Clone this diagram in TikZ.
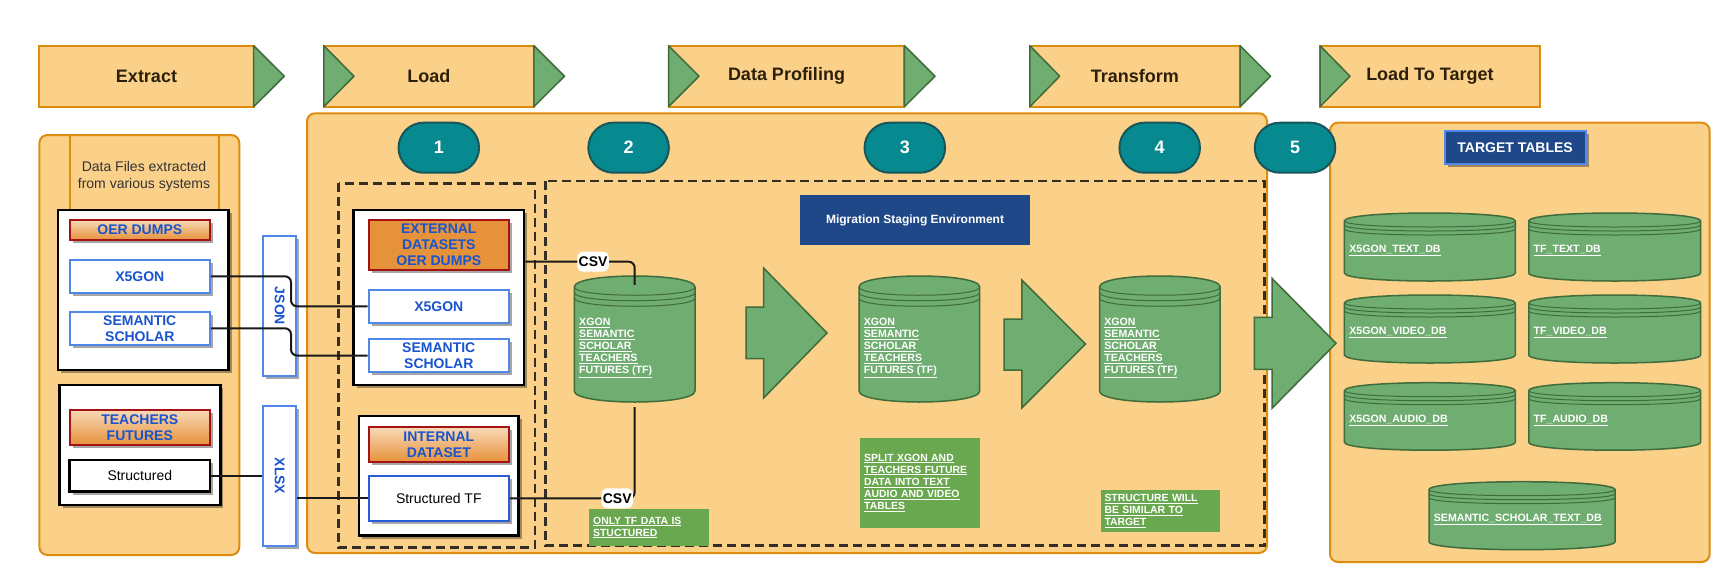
\documentclass[tikz,border=0pt]{standalone}
\usepackage{fontspec}
\setmainfont{Liberation Sans}
\usepackage{tikz}
\usetikzlibrary{calc}
\usetikzlibrary{shadows}

\definecolor{bannerfill}{RGB}{251,208,137}
\definecolor{bannerdraw}{RGB}{222,140,16}
\definecolor{leafgreen}{RGB}{112,173,113}
\definecolor{leafdraw}{RGB}{62,108,58}
\definecolor{tealfill}{RGB}{6,138,143}
\definecolor{tealdraw}{RGB}{24,86,90}
\definecolor{notegreen}{RGB}{106,168,79}
\definecolor{navy}{RGB}{31,72,136}
\definecolor{inkblue}{RGB}{24,84,206}
\definecolor{boxblue}{RGB}{80,136,232}
\definecolor{deepblue}{RGB}{40,92,215}
\definecolor{darkred}{RGB}{165,18,20}
\definecolor{peach}{RGB}{248,216,182}
\definecolor{pumpkin}{RGB}{230,146,58}
\definecolor{dashgray}{RGB}{52,46,36}
\definecolor{textbrown}{RGB}{45,32,10}

\tikzset{
  banner/.style={draw=bannerdraw, fill=bannerfill, line width=2pt},
  chevron/.style={draw=leafdraw, fill=leafgreen, line width=1.5pt, line join=round},
  bannertext/.style={text=textbrown, font=\fontsize{18}{21}\selectfont\bfseries},
  panel/.style={draw=bannerdraw, fill=bannerfill, line width=2pt, rounded corners=8pt},
  stagebox/.style={draw=dashgray, line width=2.5pt, dash pattern=on 9pt off 5pt},
  stepnum/.style={draw=tealdraw, fill=tealfill, line width=2pt, rounded corners=25pt,
    minimum width=80.5pt, minimum height=50pt, text=white,
    font=\fontsize{18}{21}\selectfont\bfseries},
  boxshadow/.style={drop shadow={shadow xshift=3pt, shadow yshift=-3pt, opacity=0.35, fill=black}},
  groupbox/.style={draw=black, fill=white, line width=2.5pt, boxshadow, inner sep=0pt},
  sourcebox/.style={draw=darkred, line width=2pt, boxshadow, inner sep=0pt, align=center,
    text=inkblue, font=\fontsize{14}{16}\selectfont\bfseries},
  feedbox/.style={draw=boxblue, fill=white, line width=2pt, boxshadow, inner sep=0pt,
    align=center, text=inkblue, font=\fontsize{14}{16}\selectfont\bfseries},
  plainbox/.style={fill=white, line width=2pt, boxshadow, inner sep=0pt,
    font=\fontsize{14}{16}\selectfont},
  feedtext/.style={text=inkblue, font=\fontsize{14}{16}\selectfont\bfseries},
  filetext/.style={text=black!80, font=\fontsize{14}{17}\selectfont, align=center},
  link/.style={draw=black!90, line width=2pt, rounded corners=6pt},
  csvtag/.style={fill=white, inner sep=0pt, minimum width=31.5pt, minimum height=20pt,
    font=\fontsize{14}{16}\selectfont\bfseries},
  note/.style={fill=notegreen, text=white, font=\fontsize{10.4}{12.1}\selectfont\bfseries,
    align=left, inner sep=4pt, anchor=north west},
  navybox/.style={fill=navy, text=white, inner sep=0pt},
  bigarrow/.style={fill=leafgreen, draw=leafdraw, line width=1.5pt, line join=miter},
  dbbody/.style={fill=leafgreen, draw=leafdraw, line width=1.5pt},
  dbrim/.style={draw=leafdraw, line width=1pt},
  dblabel/.style={text=white, font=\fontsize{10.6}{12}\selectfont\bfseries, align=left,
    anchor=west, inner sep=0pt},
  dbnode/.style={inner sep=0pt}
}

\newcommand{\datastore}[8]{%
  \begin{scope}[shift={(#2,#3)}]
    \draw[dbbody] (0,#6) .. controls (0,-#6/3) and (#4,-#6/3) .. (#4,#6)
      -- (#4,#5-#6) .. controls (#4,#5+#6/3) and (0,#5+#6/3) .. (0,#5-#6) -- cycle;
    \foreach \k in {0,0.5,1}
      \draw[dbrim] (0,#6+\k*#6) .. controls (0,2*#6+\k*#6) and (#4,2*#6+\k*#6) .. (#4,#6+\k*#6);
    \node[dbnode, minimum width=#4, minimum height=#5] (#1) at (#4/2,#5/2) {};
    \node[dblabel] (#1-label) at (4.7,#5/2+#8) {#7};
  \end{scope}
}
\newcommand{\stagedata}{\underline{XGON}\\\underline{SEMANTIC}\\\underline{SCHOLAR}\\\underline{TEACHERS}\\\underline{FUTURES (TF)}}

\begin{document}
\begin{tikzpicture}[x=1pt,y=-1pt]
\useasboundingbox (0,0) rectangle (1730,582);

\draw[banner] (39.4,45.7) rectangle (253.7,106.7);
\draw[chevron] (253.7,45.7) -- (284.3,76.2) -- (253.7,106.7) -- cycle;
\node[bannertext] (extract) at (146.5,76.2) {Extract};

\draw[banner] (323.8,45.7) rectangle (533.9,106.7);
\draw[chevron] (323.8,45.7) -- (354,76.2) -- (323.8,106.7) -- cycle;
\draw[chevron] (533.9,45.7) -- (564.5,76.2) -- (533.9,106.7) -- cycle;
\node[bannertext] (load) at (428.9,76.2) {Load};

\draw[banner] (668.6,45.7) rectangle (904.4,106.7);
\draw[chevron] (668.6,45.7) -- (699,76.2) -- (668.6,106.7) -- cycle;
\draw[chevron] (904.4,45.7) -- (935,76.2) -- (904.4,106.7) -- cycle;
\node[bannertext] (profiling) at (786.5,76.2) {Data Profiling};

\draw[banner] (1029.8,45.7) rectangle (1240,106.7);
\draw[chevron] (1029.8,45.7) -- (1059.7,76.2) -- (1029.8,106.7) -- cycle;
\draw[chevron] (1240,45.7) -- (1270.6,76.2) -- (1240,106.7) -- cycle;
\node[bannertext] (transform) at (1134.9,76.2) {Transform};

\draw[banner] (1320,45.7) rectangle (1539.7,106.7);
\draw[chevron] (1320,45.7) -- (1350,76.2) -- (1320,106.7) -- cycle;
\node[bannertext] (loadtarget) at (1429.9,76.2) {Load To Target};

\draw[panel] (39.4,135) rectangle (239.3,555);
\draw[bannerdraw, line width=2pt] (70,135) -- (70,210) (218.6,135) -- (218.6,210);
\node[filetext] (extractnote) at (144,176) {Data Files extracted\\from various systems};

\node[groupbox, minimum width=170.4pt, minimum height=160pt] (boxA) at (143.4,290) {};
\node[sourcebox, top color=peach, bottom color=pumpkin, minimum width=140.4pt, minimum height=20pt] (oer) at (139.8,230) {OER DUMPS};
\node[feedbox, minimum width=140.4pt, minimum height=32.7pt] (xgonA) at (139.8,276.3) {X5GON};
\node[feedbox, minimum width=140.4pt, minimum height=33.3pt] (semA) at (139.8,328.3) {SEMANTIC\\SCHOLAR};

\node[groupbox, minimum width=160.8pt, minimum height=120pt] (boxB) at (140,445) {};
\node[sourcebox, top color=peach, bottom color=pumpkin, minimum width=140.4pt, minimum height=35pt] (teachers) at (139.8,427.5) {TEACHERS\\FUTURES};
\node[plainbox, draw=black, line width=2.5pt, minimum width=140.4pt, minimum height=31.7pt] (structured) at (139.8,475.8) {Structured};

\node[feedbox, minimum width=33.2pt, minimum height=140pt] (json) at (279.8,306) {};
\node[feedtext, rotate=-90] (jsonlabel) at (json) {JSON};
\node[feedbox, minimum width=33.2pt, minimum height=140pt] (xlsx) at (279.8,476) {};
\node[feedtext, rotate=-90] (xlsxlabel) at (xlsx) {XLSX};

\draw[panel] (307,113.3) rectangle (1267,553);
\draw[panel] (1330,122.7) rectangle (1709.7,562);

\draw[stagebox] (338.6,183.3) rectangle (535,547.7);
\draw[stagebox] (545.3,181) rectangle (1264.4,545.7);

\node[groupbox, minimum width=170.4pt, minimum height=175pt] (extbox) at (438.8,297.5) {};
\node[sourcebox, fill=pumpkin, minimum width=140.4pt, minimum height=50pt] (extds) at (438.8,245) {EXTERNAL\\DATASETS\\OER DUMPS};
\node[feedbox, minimum width=140.4pt, minimum height=32.7pt] (xgonB) at (438.8,306.3) {X5GON};
\node[feedbox, minimum width=140.4pt, minimum height=33pt] (semB) at (438.8,355.5) {SEMANTIC\\SCHOLAR};

\node[groupbox, minimum width=159.6pt, minimum height=119.7pt] (intbox) at (438.8,475.8) {};
\node[sourcebox, top color=peach, bottom color=pumpkin, minimum width=140.4pt, minimum height=34.7pt] (intds) at (438.8,444.7) {INTERNAL\\DATASET};
\node[plainbox, draw=deepblue, minimum width=140.4pt, minimum height=44.7pt] (structTF) at (438.8,498.3) {Structured TF};

\node[navybox, minimum width=229.2pt, minimum height=49.4pt, font=\fontsize{12}{14}\selectfont\bfseries] (staging) at (915,220) {Migration Staging Environment};

\datastore{cyl1}{574.3}{276}{120.7}{126}{11}{\stagedata}{9}
\datastore{cyl2}{859}{276}{120.7}{126}{11}{\stagedata}{9}
\datastore{cyl3}{1099.5}{276}{120.7}{126}{11}{\stagedata}{9}

\draw[bigarrow] (746,307) -- (763.6,307) -- (763.6,268) -- (827,333) -- (763.6,398) -- (763.6,358.7) -- (746,358.7) -- cycle;
\draw[bigarrow] (1004,319) -- (1021.8,319) -- (1021.8,280) -- (1085.5,344) -- (1021.8,408) -- (1021.8,370) -- (1004,370) -- cycle;

\node[note, text width=111.6pt, minimum height=36.7pt] (note1) at (589,509) {\underline{ONLY TF DATA IS}\\\underline{STUCTURED}};
\node[note, text width=111.6pt, minimum height=89.6pt] (note2) at (860,437.7) {\underline{SPLIT XGON AND}\\\underline{TEACHERS FUTURE}\\\underline{DATA INTO TEXT}\\\underline{AUDIO AND VIDEO}\\\underline{TABLES}};
\node[note, text width=111.1pt, minimum height=37.3pt] (note3) at (1100.3,490) {\underline{STRUCTURE WILL}\\\underline{BE SIMILAR TO}\\\underline{TARGET}};

\coordinate (jbend) at (291,0);
\draw[link] (xgonA.east) -- (xgonA.east -| jbend) |- (xgonB.west);
\draw[link] (semA.east) -- (semA.east -| jbend) |- (semB.west);
\draw[link] (structured.east) -- (structured.east -| xlsx.west);
\draw[link] (xlsx.east |- structTF.west) -- (structTF.west);
\coordinate (csvrow) at (0,261.7);
\draw[link] (extbox.east |- csvrow) -| ($(cyl1.north)+(0,9)$) node[csvtag, pos=0.31] (csv1) {CSV};
\draw[link] ($(cyl1.south)+(0,5)$) |- (structTF.east) node[csvtag, pos=0.57] (csv2) {CSV};

\node[navybox, draw=boxblue, line width=2pt, boxshadow, minimum width=141pt, minimum height=33.3pt, font=\fontsize{14}{16}\selectfont\bfseries] (targets) at (1515.1,147.3) {TARGET TABLES};

\datastore{xtext}{1344.4}{213}{171}{68}{8}{\underline{X5GON\_TEXT\_DB}}{3.5}
\datastore{tftext}{1528.8}{213}{171.7}{68}{8}{\underline{TF\_TEXT\_DB}}{3.5}
\datastore{xvideo}{1344.4}{295}{171}{68}{8}{\underline{X5GON\_VIDEO\_DB}}{3.5}
\datastore{tfvideo}{1528.8}{295}{171.7}{68}{8}{\underline{TF\_VIDEO\_DB}}{3.5}
\datastore{xaudio}{1344.4}{382.7}{171}{67.5}{8}{\underline{X5GON\_AUDIO\_DB}}{3.5}
\datastore{tfaudio}{1528.8}{382.7}{171.7}{67.5}{8}{\underline{TF\_AUDIO\_DB}}{3.5}
\datastore{semtext}{1429}{481.7}{186}{68}{8}{\underline{SEMANTIC\_SCHOLAR\_TEXT\_DB}}{4}

\draw[bigarrow] (1254.3,317.3) -- (1272,317.3) -- (1272,278.3) -- (1336,343.3) -- (1272,408.3) -- (1272,369.3) -- (1254.3,369.3) -- cycle;

\node[stepnum] (step1) at (438.8,147.7) {1};
\node[stepnum] (step2) at (628.6,147.7) {2};
\node[stepnum] (step3) at (904.8,147.7) {3};
\node[stepnum] (step4) at (1159.7,147.7) {4};
\node[stepnum] (step5) at (1295,147.7) {5};
\end{tikzpicture}
\end{document}
